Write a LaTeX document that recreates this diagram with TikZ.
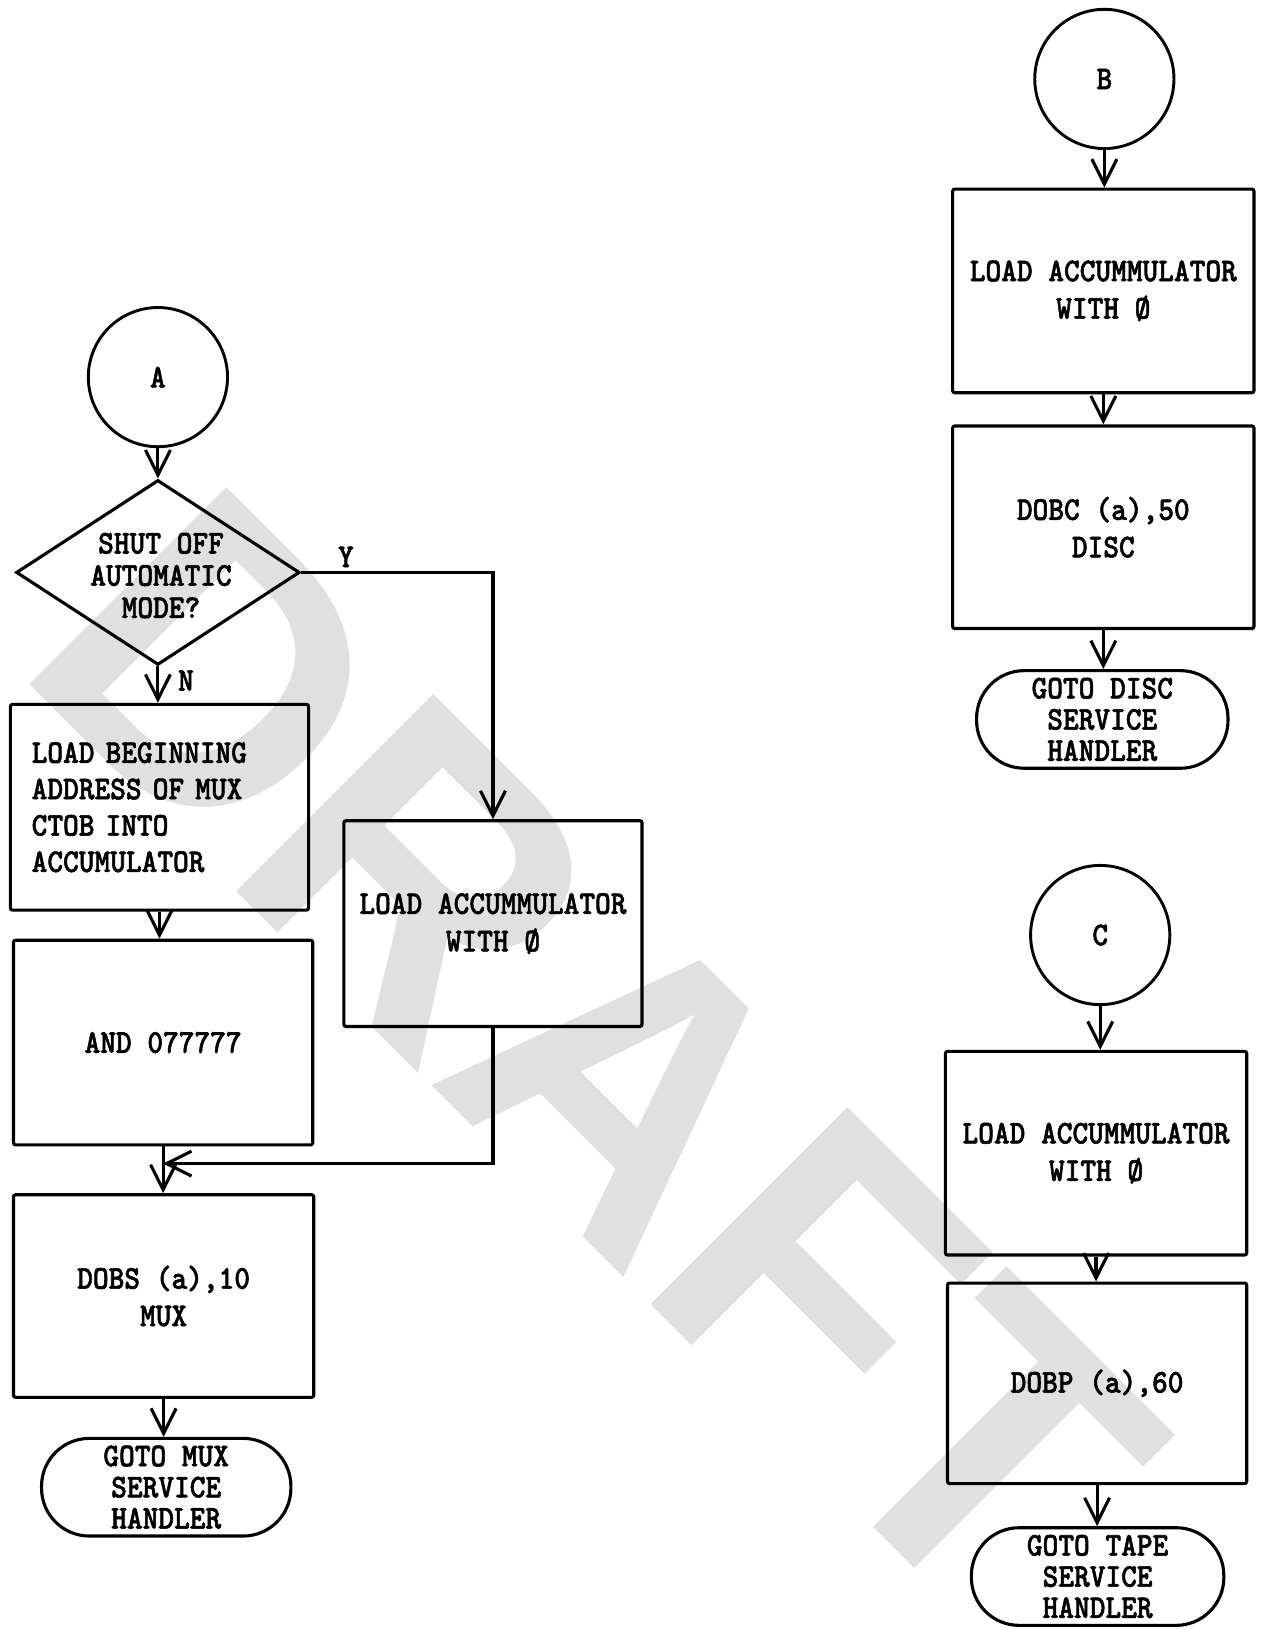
\documentclass[tikz,border=0pt]{standalone}
\usepackage{fontspec}
\usetikzlibrary{arrows.meta,shapes.geometric}
\newfontfamily\tw{lmmonolt10-bold.otf}[FakeStretch=0.9, FakeBold=1.6]
\newfontfamily\wmfont{Liberation Sans}
\begin{document}
\begin{tikzpicture}[x=0.5pt,y=-0.5pt,
  txt/.style={font={\tw\fontsize{16}{18}\selectfont}},
  every node/.style={txt},
  proc/.style={draw, line width=1.5pt, rounded corners=1pt, inner sep=0pt, align=center},
  term/.style={draw, line width=1.5pt, rounded corners=23pt, minimum height=47pt, inner sep=0pt, align=center,
               font={\tw\fontsize{16}{15}\selectfont}},
  conn/.style={draw, circle, line width=1.4pt, minimum size=67pt, inner sep=0pt},
  arr/.style={line width=1.5pt, -{Straight Barb[length=12pt,width=12pt,line width=1.5pt]}},
  lbl/.style={inner sep=0pt}
]
\useasboundingbox (0,0) rectangle (1218,1568);
% watermark
\node[rotate=-45, anchor=base west, inner sep=0pt, text=black!12,
      font={\wmfont\bfseries\fontsize{195}{195}\selectfont}] (wm) at (10,640) {DRAFT};

% ---- left flow (A)
\node[conn] (a) at (152,363) {A};
\node[draw, diamond, line width=1.5pt, minimum width=136.5pt, minimum height=89pt, inner sep=0pt] (dec) at (152,551) {};
\node[align=center, inner sep=0pt, font={\tw\fontsize{16}{15.5}\selectfont}] (dect) at (155,554) {SHUT OFF\\AUTOMATIC\\MODE?};
\node[lbl] (ylab) at (333,536) {Y};
\node[lbl] (nlab) at (179,655) {N};
\node[proc, minimum width=143.5pt, minimum height=99pt, align=left, text width=123pt, inner xsep=10pt,
      font={\tw\fontsize{16}{17.5}\selectfont}] (lb) at (153.5,777)
      {LOAD BEGINNING\\ADDRESS OF MUX\\CTOB INTO\\ACCUMULATOR};
\node[proc, minimum width=144pt, minimum height=98.5pt] (and) at (157,1003.5) {AND 077777};
\node[proc, minimum width=143.5pt, minimum height=99pt] (lr) at (474.5,889) {LOAD ACCUMMULATOR\\WITH Ø};
\node[proc, minimum width=144.5pt, minimum height=97.5pt] (dobs) at (157.5,1247.5) {DOBS (a),10\\MUX};
\node[term, minimum width=120pt] (gm) at (160,1431.5) {GOTO MUX\\SERVICE\\HANDLER};
\coordinate (j) at (157,1120);

\draw[arr] (a.south) -- (a.south |- dec.north);
\draw[arr] (dec.south) -- (dec.south |- lb.north);
\draw[arr] (dec.east) -| (lr.north);
\draw[arr] (lb.south) -- (lb.south |- and.north);
\draw[arr] (lr.south) |- (j);
\draw[arr] (and.south) -- (and.south |- dobs.north);
\draw[arr] (dobs.south) -- (dobs.south |- gm.north);

% ---- B flow
\node[conn] (b) at (1063,76) {B};
\node[proc, minimum width=145pt, minimum height=98pt] (b1) at (1062,280) {LOAD ACCUMMULATOR\\WITH Ø};
\node[proc, minimum width=145pt, minimum height=97.5pt] (b2) at (1062,507.5) {DOBC (a),50\\DISC};
\node[term, minimum width=121pt] (gd) at (1061,692.5) {GOTO DISC\\SERVICE\\HANDLER};
\draw[arr] (b.south) -- (b.south |- b1.north);
\draw[arr] (b1.south) -- (b1.south |- b2.north);
\draw[arr] (b2.south) -- (b2.south |- gd.north);

% ---- C flow
\node[conn] (c) at (1059,900) {C};
\node[proc, minimum width=145pt, minimum height=98pt] (c1) at (1055,1110) {LOAD ACCUMMULATOR\\WITH Ø};
\node[proc, minimum width=144pt, minimum height=96.5pt] (c2) at (1056,1331.5) {DOBP (a),60};
\node[term, minimum width=121.5pt] (gt) at (1056.5,1517.5) {GOTO TAPE\\SERVICE\\HANDLER};
\draw[arr] (c.south) -- (c.south |- c1.north);
\draw[arr] (c1.south) -- (c1.south |- c2.north);
\draw[arr] (c2.south) -- (c2.south |- gt.north);
\end{tikzpicture}
\end{document}
